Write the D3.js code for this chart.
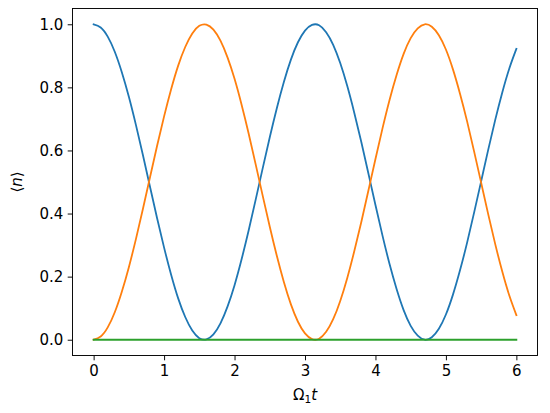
<!DOCTYPE html>
<html><head><meta charset="utf-8">
<script src="https://cdn.jsdelivr.net/npm/d3@7"></script>
<style>body{margin:0;background:#fff}svg{display:block}text{font-family:"DejaVu Sans",sans-serif}</style>
</head><body>
<svg id="c" width="550" height="413"></svg>
<script>
const times = [0,0.1,0.2,0.3,0.4,0.5,0.6,0.7,0.8,0.9,1.0,1.1,1.2,1.3,1.4,1.5,1.6,1.7,1.8,1.9,2.0,2.1,2.2,2.3,2.4,2.5,2.6,2.7,2.8,2.9,3.0,3.1,3.2,3.3,3.4,3.5,3.6,3.7,3.8,3.9,4.0,4.1,4.2,4.3,4.4,4.5,4.6,4.7,4.8,4.9,5.0,5.1,5.2,5.3,5.4,5.5,5.6,5.7,5.8,5.9,6.0];
const blueN = [1.000,0.990,0.961,0.913,0.848,0.770,0.681,0.585,0.485,0.386,0.292,0.206,0.131,0.072,0.029,0.005,0.001,0.017,0.052,0.105,0.173,0.255,0.346,0.444,0.544,0.642,0.734,0.817,0.888,0.943,0.980,0.998,0.997,0.975,0.935,0.877,0.804,0.719,0.626,0.527,0.427,0.330,0.240,0.161,0.094,0.044,0.013,0.000,0.008,0.035,0.080,0.143,0.220,0.307,0.403,0.502,0.602,0.697,0.784,0.860,0.922];
const orangeN = [0.000,0.010,0.039,0.087,0.152,0.230,0.319,0.415,0.515,0.614,0.708,0.794,0.869,0.928,0.971,0.995,0.999,0.983,0.948,0.895,0.827,0.745,0.654,0.556,0.456,0.358,0.266,0.183,0.112,0.057,0.020,0.002,0.003,0.025,0.065,0.123,0.196,0.281,0.374,0.473,0.573,0.670,0.760,0.839,0.906,0.956,0.987,1.000,0.992,0.965,0.920,0.857,0.780,0.693,0.597,0.498,0.398,0.303,0.216,0.140,0.078];
const greenN = times.map(() => 0);
const xTicks = [0,1,2,3,4,5,6];
const yTicks = [0.0,0.2,0.4,0.6,0.8,1.0];

const svg = d3.select("#c");
const L = 72.5, R = 537.5, T = 8.5, B = 355.5;
const x = d3.scaleLinear().domain([-0.3, 6.3]).range([L, R]);
const y = d3.scaleLinear().domain([-0.05, 1.05]).range([B, T]);

const line = d3.line().x((d,i)=>x(times[i])).y(d=>y(d)).curve(d3.curveNatural);
const series = [[blueN,"#1f77b4"],[orangeN,"#ff7f0e"],[greenN,"#2ca02c"]];
svg.append("clipPath").attr("id","cp").append("rect").attr("x",L).attr("y",T).attr("width",R-L).attr("height",B-T);
series.forEach(([d,c]) => {
  svg.append("path").attr("d", line(d)).attr("fill","none").attr("stroke",c)
    .attr("stroke-width",1.8).attr("stroke-linecap","square").attr("clip-path","url(#cp)");
});

const xa = svg.append("g").attr("transform",`translate(0,${B})`)
  .call(d3.axisBottom(x).tickValues(xTicks).tickFormat(d3.format("d")).tickSize(4.8).tickPadding(5));
const ya = svg.append("g").attr("transform",`translate(${L},0)`)
  .call(d3.axisLeft(y).tickValues(yTicks).tickFormat(d3.format(".1f")).tickSize(4.8).tickPadding(4.4));
[xa,ya].forEach(a=>{
  a.select(".domain").remove();
  a.selectAll("line").attr("stroke","#000").attr("stroke-width",0.95);
  a.selectAll("text").attr("font-size","15px").attr("fill","#000").attr("font-family","DejaVu Sans");
});
svg.append("rect").attr("x",L).attr("y",T).attr("width",R-L).attr("height",B-T)
  .attr("fill","none").attr("stroke","#000").attr("stroke-width",0.95);

// x label Ω₁t
const xl = svg.append("text").attr("x",(L+R)/2).attr("y",400).attr("text-anchor","middle").attr("font-size","15px");
xl.append("tspan").text("Ω");
xl.append("tspan").attr("font-size","10.5px").attr("dy",3).text("1");
xl.append("tspan").attr("dy",-3).attr("font-style","italic").text("t");

// y label ⟨n⟩
const yl = svg.append("text").attr("transform",`translate(22,${(T+B)/2}) rotate(-90)`).attr("text-anchor","middle").attr("font-size","15px");
yl.append("tspan").text("⟨");
yl.append("tspan").attr("font-style","italic").text("n");
yl.append("tspan").text("⟩");
</script>
</body></html>
